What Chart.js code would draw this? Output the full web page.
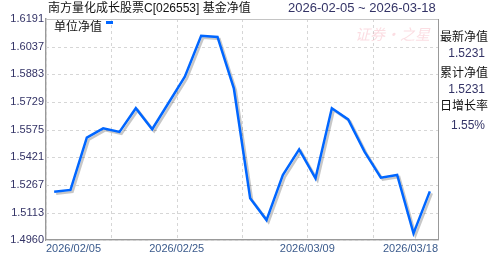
<!DOCTYPE html>
<html>
<head>
<meta charset="utf-8">
<script src="https://cdn.jsdelivr.net/npm/chart.js@4.4.1/dist/chart.umd.min.js"></script>
<style>
  html, body { margin: 0; padding: 0; background: #fff; }
  #wrap { position: relative; width: 488px; height: 255px; overflow: hidden;
    font-family: "Liberation Sans", "Noto Sans CJK SC", sans-serif; }
  #wrap canvas { position: absolute; left: 0; top: 0; }
  .t { position: absolute; white-space: nowrap; line-height: 16px; }
  #title { left: 48px; top: 0; font-size: 12px; color: #111; }
  #range { left: 288px; top: 0; font-size: 13px; color: #333366; }
  #legend { left: 54px; top: 19px; font-size: 12px; color: #111; }
  #legend i { display: inline-block; width: 7px; height: 3px; background: #0066ff;
    margin-left: 4px; vertical-align: 7px; }
  .lab { left: 440px; font-size: 12px; color: #111; }
  .val { right: 3px; font-size: 12px; color: #333366; }
</style>
</head>
<body>
<div id="wrap">
  <canvas id="navChart" width="488" height="255"></canvas>
  <div class="t" id="title">南方量化成长股票C[026553] 基金净值</div>
  <div class="t" id="range">2026-02-05 ~ 2026-03-18</div>
  <div class="t" id="legend">单位净值<i></i></div>
  <div class="t lab" style="top:29px">最新净值</div>
  <div class="t val" id="latestNav" style="top:45px"></div>
  <div class="t lab" style="top:65px">累计净值</div>
  <div class="t val" id="accNav" style="top:81px"></div>
  <div class="t lab" style="top:98px">日增长率</div>
  <div class="t val" id="dailyPct" style="top:117px"></div>
</div>
<script>
// ——— 南方量化成长股票C 单位净值, 2026-02-05 ~ 2026-03-18 (trading days) ———
const DATES = [
  "2026-02-05", "2026-02-06", "2026-02-09", "2026-02-10", "2026-02-11", "2026-02-12",
  "2026-02-13", "2026-02-24", "2026-02-25", "2026-02-26", "2026-02-27", "2026-03-02",
  "2026-03-03", "2026-03-04", "2026-03-05", "2026-03-06", "2026-03-09", "2026-03-10",
  "2026-03-11", "2026-03-12", "2026-03-13", "2026-03-16", "2026-03-17", "2026-03-18"
];
const UNIT_NAV = [
  1.5229, 1.5239, 1.5530, 1.5582, 1.5562, 1.5694,
  1.5577, 1.5723, 1.5870, 1.6098, 1.6091, 1.5805,
  1.5192, 1.5071, 1.5322, 1.5465, 1.5304, 1.5694,
  1.5632, 1.5452, 1.5307, 1.5322, 1.4997, 1.5231
];
const Y_TICKS = [1.4960, 1.5113, 1.5267, 1.5421, 1.5575, 1.5729, 1.5883, 1.6037, 1.6191];
// x axis runs over trading-day index; ticks split it into six equal parts
const X_TICK_VALUES = [-0.5, 3.5, 7.5, 11.5, 15.5, 19.5, 23.5];
const X_TICK_LABELS = ["2026/02/05", "", "2026/02/25", "", "2026/03/09", "", "2026/03/18"];

const LATEST_NAV = "1.5231";
const ACC_NAV = "1.5231";
const DAILY_PCT = "1.55%";

document.getElementById("latestNav").textContent = LATEST_NAV;
document.getElementById("accNav").textContent = ACC_NAV;
document.getElementById("dailyPct").textContent = DAILY_PCT;

const FONT = "'Liberation Sans', 'Noto Sans CJK SC', sans-serif";

// grey drop shadow under the line
const shadowPlugin = {
  id: "shadow",
  beforeDatasetDraw(chart) {
    const c = chart.ctx;
    c.save();
    c.shadowColor = "rgba(0,0,0,0.22)";
    c.shadowOffsetX = 2;
    c.shadowOffsetY = 2;
    c.shadowBlur = 0;
  },
  afterDatasetDraw(chart) {
    chart.ctx.restore();
  }
};

// dashed grid (3 on / 3 off) at the scales' ticks, watermark, top/right frame
const framePlugin = {
  id: "frame",
  beforeDatasetsDraw(chart) {
    const { ctx: c, chartArea: a, scales } = chart;
    c.save();
    c.fillStyle = "#d6d6d6";
    scales.x.ticks.forEach(t => {
      const px = Math.round(scales.x.getPixelForValue(t.value));
      for (let y = a.top; y < a.bottom; y += 6) c.fillRect(px, y, 1, 3);
    });
    scales.y.ticks.forEach(t => {
      const py = Math.round(scales.y.getPixelForValue(t.value));
      for (let x = a.left; x < a.right; x += 6) c.fillRect(x, py, 3, 1);
    });

    c.font = "italic 15px 'Noto Sans CJK SC'";
    c.fillStyle = "rgba(240,120,140,0.25)";
    c.textAlign = "right";
    c.textBaseline = "middle";
    c.fillText("证券·之星", a.right - 8, a.top + 15);
    c.restore();
  },
  afterDraw(chart) {
    const { ctx: c, chartArea: a } = chart;
    c.save();
    c.strokeStyle = "#c4c4c4";
    c.lineWidth = 1;
    c.beginPath();
    c.moveTo(a.left, a.top + 0.5);
    c.lineTo(a.right, a.top + 0.5);
    c.stroke();
    c.strokeStyle = "#999";
    c.beginPath();
    c.moveTo(a.right + 0.5, a.top);
    c.lineTo(a.right + 0.5, a.bottom);
    c.stroke();
    c.restore();
  }
};

new Chart(document.getElementById("navChart"), {
  type: "line",
  data: {
    datasets: [{
      label: "单位净值",
      data: UNIT_NAV.map((v, i) => ({ x: i, y: v })),
      borderColor: "#0066ff",
      borderWidth: 2.5,
      pointRadius: 0,
      tension: 0,
      fill: false
    }]
  },
  options: {
    responsive: false,
    animation: false,
    events: [],
    layout: { padding: { left: 0, right: 50, top: 19, bottom: 0 } },
    plugins: { legend: { display: false }, tooltip: { enabled: false } },
    scales: {
      x: {
        type: "linear",
        min: -0.5,
        max: 23.5,
        afterBuildTicks(s) { s.ticks = X_TICK_VALUES.map(v => ({ value: v })); },
        afterFit(s) { s.height = 15; },
        border: { display: true, color: "#999", width: 1.5 },
        grid: { display: true, drawOnChartArea: false, drawTicks: false },
        ticks: {
          align: "inner",
          autoSkip: false,
          maxRotation: 0,
          padding: 2,
          color: "#3a5a8c",
          font: { family: FONT, size: 11 },
          callback(v, i) { return X_TICK_LABELS[i]; }
        }
      },
      y: {
        min: Y_TICKS[0],
        max: Y_TICKS[Y_TICKS.length - 1],
        afterBuildTicks(s) { s.ticks = Y_TICKS.map(v => ({ value: v })); },
        afterFit(s) { s.width = 46; },
        border: { display: true, color: "#999", width: 1.5 },
        grid: { display: true, drawOnChartArea: false, drawTicks: false },
        ticks: {
          padding: 2,
          color: "#333366",
          font: { family: FONT, size: 11 },
          callback(v) { return Number(v).toFixed(4); }
        }
      }
    }
  },
  plugins: [shadowPlugin, framePlugin]
});
</script>
</body>
</html>
